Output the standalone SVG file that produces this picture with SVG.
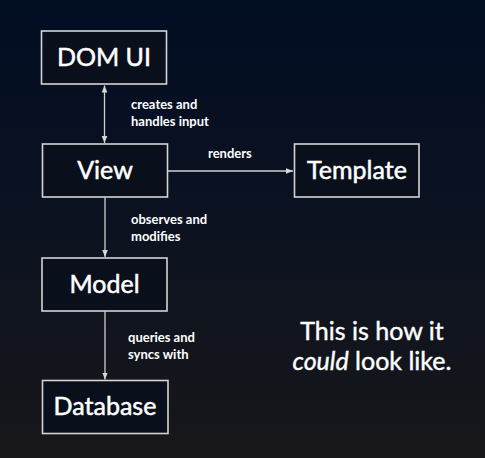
<svg xmlns="http://www.w3.org/2000/svg" width="485" height="458" viewBox="0 0 485 458">
<defs>
<linearGradient id="bg" x1="0" y1="0" x2="0" y2="1">
<stop offset="0" stop-color="#020e24"/>
<stop offset="0.5" stop-color="#0c1220"/>
<stop offset="1" stop-color="#17171a"/>
</linearGradient>
<marker id="ah" viewBox="0 0 10 10" refX="10" refY="5" markerWidth="7" markerHeight="7" orient="auto-start-reverse" markerUnits="userSpaceOnUse">
<path d="M0,1 L10,5 L0,9 Z" fill="#d8d8d8"/>
</marker>
<style>
.box{fill:#0a0f1c;stroke:#d4d4d4;stroke-width:1.6}
.nt{font-family:Lato,"Liberation Sans",sans-serif;font-size:25px;fill:#ffffff;stroke:#ffffff;stroke-width:0.5;text-anchor:middle}
.lb{font-family:Lato,"Liberation Sans",sans-serif;font-size:13px;font-weight:bold;fill:#ffffff}
.cn{stroke:#d0d0d0;stroke-width:1.3;fill:none}
.tt{font-family:Lato,"Liberation Sans",sans-serif;font-size:25px;fill:#ffffff;stroke:#ffffff;stroke-width:0.4;text-anchor:middle}
</style>
</defs>
<rect width="485" height="458" fill="url(#bg)"/>
<g id="connectors">
<line class="cn" x1="104.5" y1="85.5" x2="104.5" y2="143" marker-start="url(#ah)" marker-end="url(#ah)"/>
<line class="cn" x1="168" y1="171" x2="293" y2="171" marker-end="url(#ah)"/>
<line class="cn" x1="105" y1="197.5" x2="105" y2="257" marker-end="url(#ah)"/>
<line class="cn" x1="105" y1="311.5" x2="105" y2="379.5" marker-end="url(#ah)"/>
<text class="lb" x="131" y="109">creates and</text>
<text class="lb" x="131" y="126">handles input</text>
<text class="lb" x="208" y="158">renders</text>
<text class="lb" x="131" y="224">observes and</text>
<text class="lb" x="131" y="241">modifies</text>
<text class="lb" x="128" y="342">queries and</text>
<text class="lb" x="128" y="359">syncs with</text>
</g>
<g id="dom-ui">
<rect class="box" x="41.5" y="31" width="125" height="53"/>
<text class="nt" x="104" y="66">DOM UI</text>
</g>
<g id="view">
<rect class="box" x="42.5" y="144" width="125" height="53"/>
<text class="nt" x="105" y="179">View</text>
</g>
<g id="template">
<rect class="box" x="294.5" y="144" width="124.5" height="53"/>
<text class="nt" x="357" y="179">Template</text>
</g>
<g id="model">
<rect class="box" x="42" y="258" width="125" height="53"/>
<text class="nt" x="104.5" y="293">Model</text>
</g>
<g id="database">
<rect class="box" x="42.5" y="380.5" width="125.5" height="53"/>
<text class="nt" x="105" y="415">Database</text>
</g>
<g id="caption">
<text class="tt" x="372" y="340">This is how it</text>
<text class="tt" x="372" y="370"><tspan font-style="italic">could</tspan> look like.</text>
</g>
</svg>
